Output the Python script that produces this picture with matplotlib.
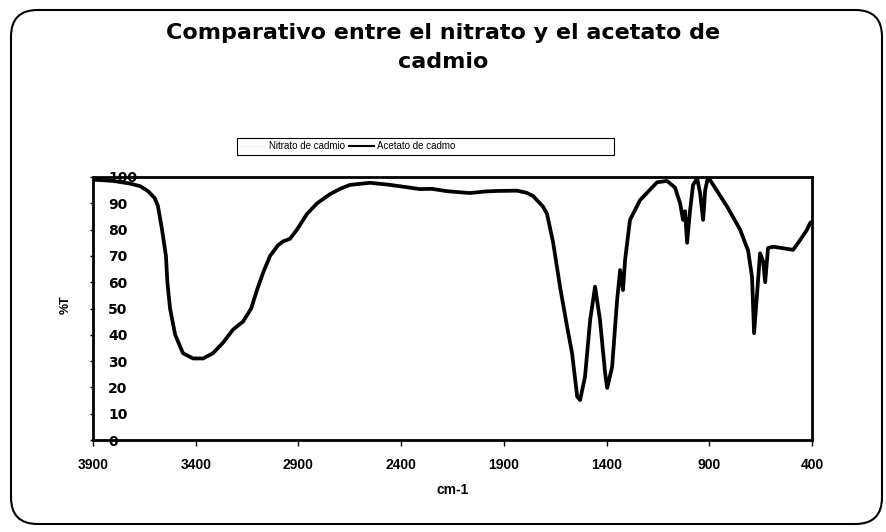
import matplotlib
matplotlib.use("Agg")
import matplotlib.pyplot as plt
from matplotlib.lines import Line2D
from matplotlib.patches import FancyBboxPatch, Rectangle

plt.rcParams['font.family'] = ['Liberation Sans', 'DejaVu Sans']

wavenumber = [3900, 3800, 3720, 3670, 3630, 3600, 3584, 3564, 3545, 3538, 3525, 3500,
              3462, 3413, 3364, 3316, 3267, 3218, 3170, 3130, 3102, 3070, 3038, 3000,
              2975, 2941, 2907, 2858, 2809, 2746, 2697, 2649, 2551, 2454, 2380, 2308,
              2250, 2177, 2065, 1990, 1933, 1836, 1790, 1758, 1709, 1690, 1660, 1626,
              1592, 1568, 1543, 1529, 1505, 1480, 1456, 1432, 1407, 1397, 1373, 1349,
              1334, 1320, 1310, 1286, 1237, 1154, 1106, 1067, 1042, 1028, 1018, 1008,
              994, 979, 959, 945, 930, 920, 906, 881, 813, 750, 711, 692, 682, 667,
              653, 638, 628, 614, 589, 492, 458, 424, 409, 400]
acetato = [99, 98.5, 97.5, 96.5, 94.5, 92, 89, 80, 70, 60, 50, 40,
           33, 31, 31, 33, 37, 42, 45, 50, 57, 64, 70, 74,
           75.5, 76.5, 80, 86, 90, 93.5, 95.5, 97, 97.8, 97, 96.2, 95.4,
           95.5, 94.6, 93.9, 94.5, 94.7, 94.8, 94, 92.8, 88.7, 86, 75, 58,
           43, 33, 16.5, 15.2, 24, 45.6, 58.3, 45.6, 25.4, 19.8, 27.8, 53,
           64.6, 57, 68.4, 83.7, 91.2, 98, 98.5, 96, 90, 83.7, 87, 75,
           87, 97, 99.5, 94, 83.7, 95, 100, 97, 88.7, 80, 72, 62, 40.6, 56,
           71, 68, 60, 73, 73.5, 72.3, 76, 80, 82.5, 83]

x_ticks = [3900, 3400, 2900, 2400, 1900, 1400, 900, 400]
y_ticks = list(range(0, 101, 10))
series_names = ["Nitrato de cadmio", "Acetato de cadmo"]

fig = plt.figure(figsize=(8.86, 5.32), dpi=100)
fig.patch.set_facecolor('white')

# marco redondeado exterior
frame = FancyBboxPatch((11 / 886, 8 / 532), 871 / 886, 514 / 532,
                       boxstyle="round,pad=0,rounding_size=0.03",
                       transform=fig.transFigure, fill=False,
                       edgecolor='black', linewidth=1.5, mutation_aspect=886 / 532)
fig.patches.append(frame)

ax = fig.add_axes([93 / 886, 92 / 532, 719 / 886, 263 / 532])
ax.plot(wavenumber, acetato, color='black', linewidth=2.7, solid_joinstyle='round')

ax.set_xlim(3900, 400)
ax.set_ylim(0, 100)
ax.set_xticks(x_ticks)
ax.set_yticks(y_ticks)
ax.tick_params(axis='x', direction='out', length=4, width=1, pad=9,
               labelsize=10)
ax.tick_params(axis='y', direction='out', length=2, width=1, pad=-13,
               labelsize=10)
for lbl in ax.get_yticklabels():
    lbl.set_horizontalalignment('left')
    lbl.set_family('DejaVu Sans')
for lbl in ax.get_xticklabels() + ax.get_yticklabels():
    lbl.set_fontweight('bold')
for s in ax.spines.values():
    s.set_linewidth(2)

ax.set_xlabel("cm-1", fontsize=10, fontweight='bold', labelpad=8)
fig.text(66 / 886, 1 - 305 / 532, "%T", rotation=90, fontsize=9,
         fontweight='bold', ha='center', va='center')

fig.text(0.5, 1 - 33 / 532, "Comparativo entre el nitrato y el acetato de",
         fontsize=16, fontweight='bold', family='DejaVu Sans', ha='center', va='center')
fig.text(0.5, 1 - 62 / 532, "cadmio",
         fontsize=16, fontweight='bold', family='DejaVu Sans', ha='center', va='center')

# leyenda
handles = [Line2D([], [], color='#f2f2f2', linewidth=1),
           Line2D([], [], color='black', linewidth=1.5)]
leg = fig.legend(handles, series_names, loc='center left',
                 bbox_to_anchor=(234 / 886, 1 - 146 / 532), ncol=2,
                 fontsize=7, frameon=False, handlelength=2.6,
                 handletextpad=0.3, columnspacing=0.4, borderpad=0.2)
fig.patches.append(Rectangle((237 / 886, 1 - 155 / 532), 377 / 886, 17 / 532,
                             transform=fig.transFigure, fill=False,
                             edgecolor='black', linewidth=0.8))

fig.savefig("out.png", dpi=100)
